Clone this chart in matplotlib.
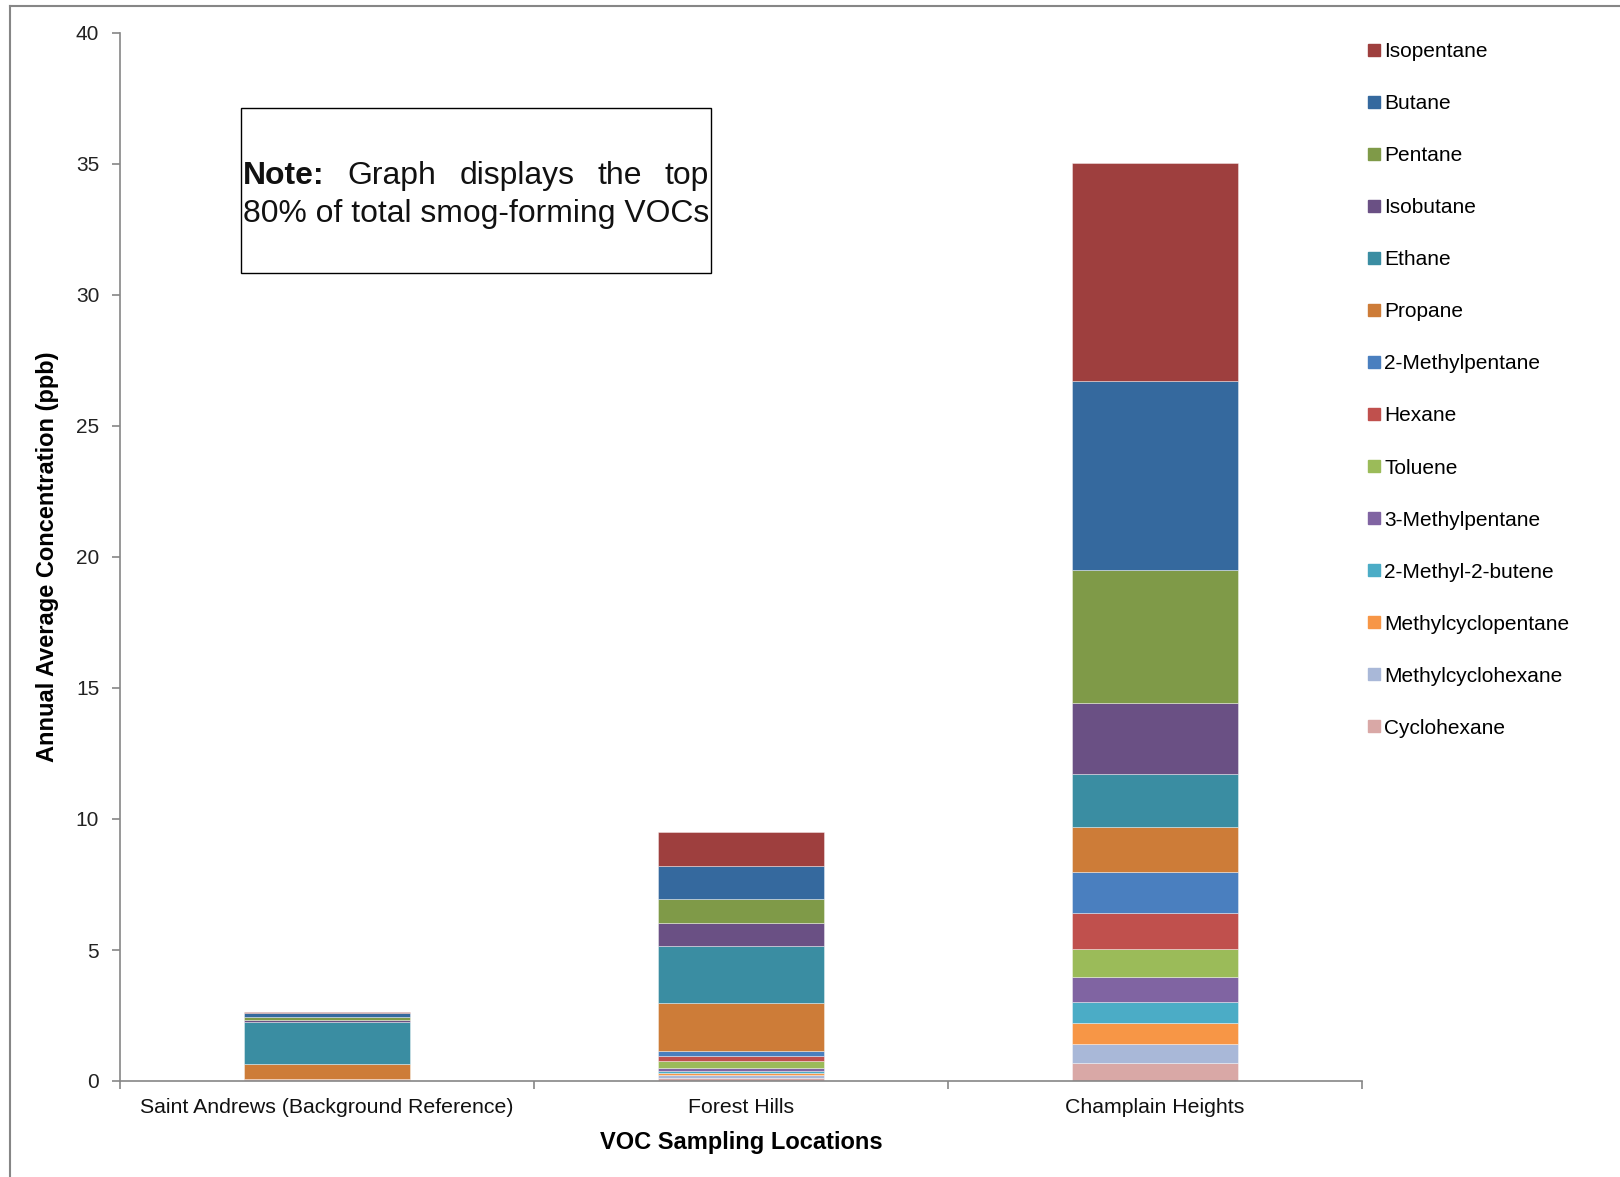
import matplotlib
matplotlib.use("Agg")
import matplotlib.pyplot as plt
from matplotlib.lines import Line2D
import numpy as np

plt.rcParams['font.family'] = ['Liberation Sans', 'DejaVu Sans']

categories = ["Saint Andrews (Background Reference)", "Forest Hills", "Champlain Heights"]

# Series in legend order (top of stack first)
compounds = ["Isopentane", "Butane", "Pentane", "Isobutane", "Ethane", "Propane",
             "2-Methylpentane", "Hexane", "Toluene", "3-Methylpentane",
             "2-Methyl-2-butene", "Methylcyclopentane", "Methylcyclohexane", "Cyclohexane"]

isopentane         = [0.05, 1.29, 8.30]
butane             = [0.16, 1.28, 7.20]
pentane            = [0.12, 0.89, 5.10]
isobutane          = [0.07, 0.88, 2.71]
ethane             = [1.61, 2.18, 2.03]
propane            = [0.56, 1.82, 1.72]
methylpentane_2    = [0.01, 0.19, 1.55]
hexane             = [0.02, 0.22, 1.36]
toluene            = [0.01, 0.27, 1.08]
methylpentane_3    = [0.01, 0.11, 0.95]
methyl2butene      = [0.005, 0.06, 0.82]
methylcyclopentane = [0.01, 0.08, 0.77]
methylcyclohexane  = [0.01, 0.10, 0.75]
cyclohexane        = [0.005, 0.13, 0.68]

series_values = [isopentane, butane, pentane, isobutane, ethane, propane,
                 methylpentane_2, hexane, toluene, methylpentane_3,
                 methyl2butene, methylcyclopentane, methylcyclohexane, cyclohexane]

colors = ["#9E3F3E", "#35699E", "#7F9A48", "#6A5084", "#3A8DA2", "#CD7C38",
          "#4A7FBF", "#C0504D", "#9BBB59", "#8064A2", "#4BACC6", "#F79646",
          "#A9B8D8", "#D9A8A6"]

yticks = [0, 5, 10, 15, 20, 25, 30, 35, 40]

W, H = 1620, 1177
fig = plt.figure(figsize=(W / 100, H / 100), dpi=100)
ax = fig.add_axes([120 / W, 1 - 1081 / H, (1362 - 120) / W, (1081 - 33) / H])

x = np.arange(len(categories))
bottom = np.zeros(len(categories))
# stack from the last series (bottom) to the first (top)
for name, vals, c in reversed(list(zip(compounds, series_values, colors))):
    v = np.array(vals, dtype=float)
    ax.bar(x, v, 0.4, bottom=bottom, color=c, label=name,
           edgecolor=(1, 1, 1, 0.45), linewidth=0.6)
    bottom += v

ax.set_xlim(-0.5, 2.5)
ax.set_ylim(0, 40)
ax.set_yticks(yticks)
ax.set_yticklabels([str(t) for t in yticks], fontsize=15, color="#222222")
ax.set_xticks(x)
ax.set_xticklabels(categories, fontsize=15.3, color="#111111")
ax.set_xticks([-0.5, 0.5, 1.5, 2.5], minor=True)
ax.tick_params(axis='x', which='major', length=0, pad=12)
ax.tick_params(axis='x', which='minor', length=6, direction='out', color="#868686", width=1.2)
ax.tick_params(axis='y', length=6, direction='out', color="#868686", width=1.2, pad=9)

for s in ["top", "right"]:
    ax.spines[s].set_visible(False)
for s in ["left", "bottom"]:
    ax.spines[s].set_color("#868686")
    ax.spines[s].set_linewidth(1.2)

ax.set_xlabel("VOC Sampling Locations", fontsize=17, fontweight='bold', labelpad=10)
ax.set_ylabel("Annual Average Concentration (ppb)", fontsize=17, fontweight='bold', labelpad=12)

# Legend (Excel style)
handles = [Line2D([0], [0], marker='s', linestyle='none', markersize=8,
                  markerfacecolor=c, markeredgecolor=c) for c in colors]
fig.legend(handles, compounds, loc='upper left',
           bbox_to_anchor=(1359 / W, 1 - 34 / H), frameon=False,
           fontsize=15, labelspacing=1.585, handlelength=0.6, handletextpad=0.22,
           borderaxespad=0)

# Note box
bx0, bx1, by0, by1 = 241, 711, 108, 273
fig.patches.append(plt.Rectangle((bx0 / W, 1 - by1 / H), (bx1 - bx0) / W, (by1 - by0) / H,
                                 transform=fig.transFigure, fill=False,
                                 edgecolor="black", linewidth=1.0))
left_px, right_px = 243, 709
fig.canvas.draw()
renderer = fig.canvas.get_renderer()

line2 = "80% of total smog-forming VOCs"
t = fig.text(0, 0, line2, fontsize=20)
w20 = t.get_window_extent(renderer).width
t.remove()
fs_note = 20 * (right_px - left_px) / w20

line1_y = 1 - 184 / H
line2_y = 1 - 222 / H
words = [("Note:", 'bold'), ("Graph", 'normal'), ("displays", 'normal'), ("the", 'normal'), ("top", 'normal')]
widths = []
for w, fw in words:
    t = fig.text(0, 0, w, fontsize=fs_note, fontweight=fw)
    widths.append(t.get_window_extent(renderer).width)
    t.remove()
gap = ((right_px - left_px) - sum(widths)) / (len(words) - 1)
xpos = left_px
for (w, fw), wd in zip(words, widths):
    fig.text(xpos / W, line1_y, w, fontsize=fs_note, fontweight=fw, va='baseline', ha='left', color="#111111")
    xpos += wd + gap
fig.text(left_px / W, line2_y, line2, fontsize=fs_note,
         va='baseline', ha='left', color="#111111")

# Chart area border (cropped on right/bottom)
fig.add_artist(Line2D([10 / W, 10 / W], [0, 1 - 6 / H], transform=fig.transFigure,
                      color="#868686", linewidth=1.5))
fig.add_artist(Line2D([10 / W, 1], [1 - 6 / H, 1 - 6 / H], transform=fig.transFigure,
                      color="#868686", linewidth=1.5))

fig.savefig("out.png", dpi=100)
